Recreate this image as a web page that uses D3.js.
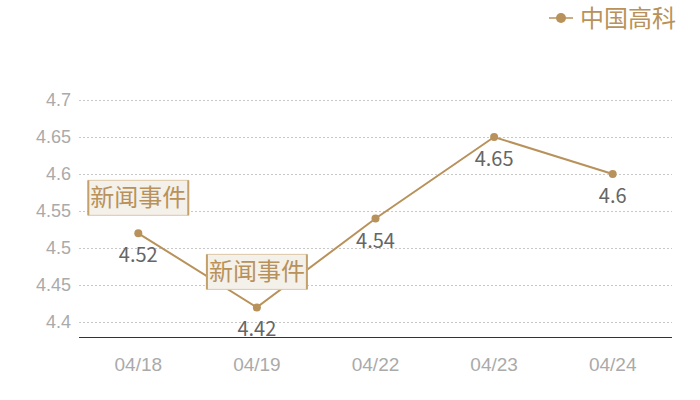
<!DOCTYPE html>
<html>
<head>
<meta charset="utf-8">
<script src="https://cdn.jsdelivr.net/npm/d3@7"></script>
<style>
  html, body { margin: 0; padding: 0; background: #fff; }
  svg { display: block; font-family: "Noto Sans CJK SC", "Noto Sans", sans-serif; }
  .axis .domain { display: none; }
  .axis line { display: none; }
  .axis text { fill: #aaaaaa; font-size: 18px; }
  .x-axis text { font-size: 19px; }
</style>
</head>
<body>
<svg id="chart" width="700" height="400"></svg>
<script>
const seriesName = '中国高科';
const dates = ['04/18', '04/19', '04/22', '04/23', '04/24'];
const prices = [4.52, 4.42, 4.54, 4.65, 4.6];
const yTicks = [4.4, 4.45, 4.5, 4.55, 4.6, 4.65, 4.7];
const events = [
  { date: '04/18', label: '新闻事件' },
  { date: '04/19', label: '新闻事件' }
];

const gold = '#b8925a';
const plotLeft = 79, plotRight = 672, plotTop = 100, plotBottom = 337;

const svg = d3.select('#chart');

const x = d3.scaleBand(dates, [plotLeft, plotRight]);
const y = d3.scaleLinear([4.38, 4.7], [plotBottom, plotTop]);
const cx = d => x(d) + x.bandwidth() / 2;

// grid lines
svg.append('g')
   .selectAll('line')
   .data(yTicks)
   .join('line')
   .attr('x1', plotLeft)
   .attr('x2', plotRight)
   .attr('y1', d => Math.round(y(d)) + 0.5)
   .attr('y2', d => Math.round(y(d)) + 0.5)
   .attr('stroke', '#c8c8c8')
   .attr('stroke-dasharray', '2,2');

// y axis labels
svg.append('g')
   .attr('class', 'axis y-axis')
   .attr('transform', `translate(${plotLeft},0)`)
   .call(d3.axisLeft(y).tickValues(yTicks).tickSize(0).tickPadding(8)
           .tickFormat(d => String(+d.toFixed(2))));

// x axis
svg.append('line')
   .attr('x1', plotLeft).attr('x2', plotRight)
   .attr('y1', plotBottom + 0.5).attr('y2', plotBottom + 0.5)
   .attr('stroke', '#333');

svg.append('g')
   .attr('class', 'axis x-axis')
   .attr('transform', `translate(0,${plotBottom})`)
   .call(d3.axisBottom(x).tickSize(0).tickPadding(21));

// line
svg.append('path')
   .datum(prices)
   .attr('fill', 'none')
   .attr('stroke', gold)
   .attr('stroke-width', 2)
   .attr('d', d3.line((d, i) => cx(dates[i]), d => y(d)));

svg.append('g')
   .selectAll('circle')
   .data(prices)
   .join('circle')
   .attr('cx', (d, i) => cx(dates[i]))
   .attr('cy', d => y(d))
   .attr('r', 4)
   .attr('fill', gold);

// value labels
svg.append('g')
   .selectAll('text')
   .data(prices)
   .join('text')
   .attr('x', (d, i) => cx(dates[i]))
   .attr('y', d => y(d) + 29)
   .attr('text-anchor', 'middle')
   .attr('fill', '#666')
   .style('font-size', '20px')
   .text(d => String(d));

// event markers
const ev = svg.append('g')
   .selectAll('g')
   .data(events)
   .join('g')
   .attr('transform', d => {
     const i = dates.indexOf(d.date);
     return `translate(${cx(d.date)},${y(prices[i]) - 18})`;
   });

ev.append('rect')
  .attr('x', -50).attr('y', -35)
  .attr('width', 100).attr('height', 35)
  .attr('fill', '#f4f0ea')
  .attr('stroke', '#dcc8a6')
  .attr('stroke-width', 1);

ev.append('line').attr('x1', -50).attr('x2', -50).attr('y1', -35).attr('y2', 0)
  .attr('stroke', '#c4a06a').attr('stroke-width', 2);
ev.append('line').attr('x1', 50).attr('x2', 50).attr('y1', -35).attr('y2', 0)
  .attr('stroke', '#c4a06a').attr('stroke-width', 2);

ev.append('text')
  .attr('x', 0).attr('y', -9)
  .attr('text-anchor', 'middle')
  .attr('fill', '#b8925a')
  .style('font-size', '24px')
  .text(d => d.label);

// legend
const lg = svg.append('g').attr('transform', 'translate(549,18)');
lg.append('line').attr('x1', 0).attr('x2', 24).attr('stroke', gold).attr('stroke-width', 1.5);
lg.append('circle').attr('cx', 12).attr('r', 5).attr('fill', gold);
lg.append('text')
  .attr('x', 31).attr('y', 9)
  .attr('fill', gold)
  .style('font-size', '24px')
  .text(seriesName);
</script>
</body>
</html>
